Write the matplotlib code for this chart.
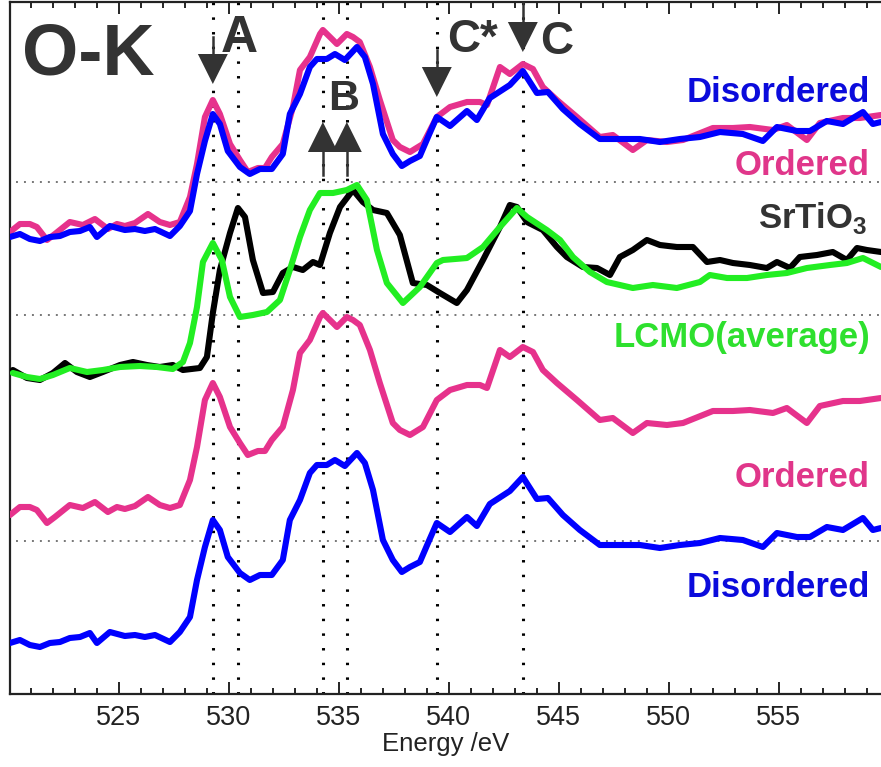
import matplotlib
matplotlib.use("Agg")
import matplotlib.pyplot as plt

plt.rcParams['font.family'] = ['Liberation Sans', 'DejaVu Sans']
plt.rcParams['mathtext.fontset'] = 'custom'
plt.rcParams['mathtext.rm'] = 'Liberation Sans'

# O-K edge spectra (energy in eV, intensity in arbitrary units)
e_ordered = [520.05, 520.5, 520.95, 521.27, 521.73, 522.09, 522.77, 523.36, 523.91, 524.5,
             524.91, 525.27, 525.73, 526.32, 526.86, 527.32, 527.77, 528.23, 528.55, 528.91,
             529.27, 529.59, 530.05, 530.5, 530.86, 531.32, 531.64, 531.95, 532.45, 532.91,
             533.23, 533.68, 534.14, 534.27, 534.73, 534.91, 535.36, 535.64, 535.95, 536.41,
             536.86, 537.45, 537.77, 538.23, 538.82, 539.45, 540.05, 540.82, 541.41, 541.73,
             542.32, 542.77, 543.36, 543.82, 544.27, 544.91, 545.82, 546.86, 547.45, 548.36,
             549.0, 549.91, 550.64, 552.0, 552.91, 553.68, 554.73, 555.36, 556.27, 556.86,
             557.91, 558.68, 559.64]
i_ordered = [1.79, 1.87, 1.87, 1.84, 1.71, 1.77, 1.89, 1.86, 1.92, 1.82,
             1.87, 1.85, 1.88, 1.97, 1.89, 1.86, 1.89, 2.14, 2.47, 2.94,
             3.11, 2.97, 2.67, 2.51, 2.39, 2.43, 2.43, 2.54, 2.67, 3.04,
             3.41, 3.54, 3.77, 3.81, 3.71, 3.67, 3.77, 3.74, 3.69, 3.44,
             3.11, 2.71, 2.64, 2.59, 2.67, 2.94, 3.04, 3.09, 3.09, 3.06,
             3.44, 3.37, 3.47, 3.42, 3.24, 3.11, 2.94, 2.74, 2.76, 2.61,
             2.71, 2.69, 2.71, 2.83, 2.83, 2.84, 2.81, 2.86, 2.71, 2.88,
             2.93, 2.93, 2.96]

e_disordered = [520.05, 520.5, 520.95, 521.41, 521.86, 522.32, 522.77, 523.23, 523.68, 524.0,
                524.59, 525.27, 525.73, 526.18, 526.64, 527.32, 527.77, 528.23, 528.55, 528.91,
                529.27, 529.59, 529.95, 530.5, 530.95, 531.41, 531.95, 532.45, 532.77, 533.23,
                533.68, 534.0, 534.45, 534.82, 535.27, 535.82, 536.18, 536.55, 537.0, 537.45,
                537.86, 538.23, 538.68, 539.05, 539.45, 540.05, 540.82, 541.27, 541.86, 542.77,
                543.36, 544.0, 544.5, 545.18, 545.95, 546.86, 547.77, 548.68, 549.59, 550.5,
                551.41, 552.32, 553.36, 554.27, 554.91, 555.82, 556.41, 557.18, 557.91, 558.82,
                559.27, 559.64]
i_disordered = [0.51, 0.54, 0.49, 0.47, 0.51, 0.52, 0.56, 0.57, 0.61, 0.51,
                0.62, 0.58, 0.59, 0.57, 0.59, 0.52, 0.62, 0.77, 1.14, 1.47,
                1.74, 1.64, 1.37, 1.21, 1.14, 1.19, 1.19, 1.34, 1.74, 1.94,
                2.21, 2.29, 2.29, 2.34, 2.28, 2.41, 2.31, 2.04, 1.54, 1.34,
                1.22, 1.27, 1.32, 1.51, 1.71, 1.62, 1.77, 1.68, 1.90, 2.03,
                2.17, 1.95, 1.96, 1.79, 1.64, 1.49, 1.49, 1.49, 1.46, 1.49,
                1.51, 1.56, 1.54, 1.47, 1.61, 1.57, 1.57, 1.67, 1.64, 1.76,
                1.64, 1.66]

e_srtio3 = [520.18, 520.82, 521.41, 522.0, 522.55, 523.09, 523.68, 524.27, 525.05, 525.64,
            526.27, 526.86, 527.45, 527.91, 528.68, 529.0, 529.27, 529.59, 530.05, 530.41,
            530.73, 531.09, 531.55, 532.0, 532.45, 532.91, 533.36, 533.82, 534.14, 534.59,
            535.05, 535.64, 536.09, 536.55, 537.18, 537.77, 538.36, 539.0, 539.59, 540.36,
            540.82, 541.55, 542.32, 542.77, 543.09, 543.55, 544.27, 544.91, 545.36, 546.09,
            546.73, 547.32, 547.77, 548.36, 549.0, 549.59, 550.36, 551.09, 551.73, 552.32,
            552.91, 553.68, 554.45, 554.91, 555.5, 555.95, 556.73, 557.45, 558.09, 558.55,
            559.0, 559.64]
i_srtio3 = [3.24, 3.16, 3.14, 3.21, 3.31, 3.22, 3.17, 3.22, 3.29, 3.32,
            3.29, 3.27, 3.29, 3.24, 3.26, 3.37, 3.81, 4.24, 4.61, 4.86,
            4.77, 4.34, 4.01, 4.02, 4.21, 4.27, 4.24, 4.32, 4.29, 4.61,
            4.87, 5.04, 4.92, 4.84, 4.81, 4.59, 4.11, 4.09, 4.01, 3.91,
            4.04, 4.34, 4.67, 4.89, 4.87, 4.72, 4.64, 4.47, 4.37, 4.27,
            4.26, 4.19, 4.37, 4.44, 4.54, 4.49, 4.47, 4.47, 4.32, 4.34,
            4.31, 4.29, 4.26, 4.32, 4.26, 4.37, 4.39, 4.42, 4.34, 4.46,
            4.44, 4.42]

e_lcmo = [520.18, 520.82, 521.41, 522.0, 522.77, 523.55, 524.27, 525.05, 525.95, 526.73,
          527.45, 527.91, 528.23, 528.55, 528.82, 529.27, 529.68, 530.05, 530.5, 531.09,
          531.73, 532.32, 532.77, 533.23, 533.68, 534.14, 534.73, 535.36, 535.82, 536.27,
          536.73, 537.18, 537.91, 538.68, 539.45, 539.73, 540.82, 541.55, 542.32, 543.09,
          543.55, 544.45, 545.05, 545.64, 546.41, 547.18, 548.36, 549.27, 550.36, 551.41,
          551.86, 552.64, 553.55, 554.45, 555.36, 556.27, 557.32, 558.09, 558.82, 559.64]
i_lcmo = [3.21, 3.17, 3.15, 3.19, 3.26, 3.22, 3.24, 3.27, 3.28, 3.27,
          3.25, 3.32, 3.51, 3.87, 4.32, 4.51, 4.34, 3.97, 3.77, 3.79,
          3.82, 3.94, 4.24, 4.57, 4.84, 5.01, 5.01, 5.04, 5.09, 4.94,
          4.44, 4.11, 3.91, 4.07, 4.31, 4.34, 4.36, 4.47, 4.67, 4.86,
          4.77, 4.64, 4.54, 4.37, 4.22, 4.12, 4.06, 4.09, 4.06, 4.12,
          4.19, 4.16, 4.16, 4.19, 4.21, 4.26, 4.29, 4.31, 4.36, 4.27]

# vertical offsets of the upper overlaid pair
offset_ordered_top = 2.83
offset_disordered_top = 4.06

# marked features (eV)
peak_A = [529.27, 530.41]
peak_B = [534.27, 535.36]
peak_Cstar = 539.45
peak_C = 543.36
baselines = [5.12, 3.79, 1.53]

pink = '#e6328c'
blue = '#0000ff'
green = '#22ee22'
gray = '#333333'

fig = plt.figure(figsize=(8.81, 7.67), dpi=100)
ax = fig.add_axes([10 / 881, 73 / 767, 1 - 10 / 881, 692 / 767])

# guide lines
for y in baselines:
    ax.plot([520.3, 559.64], [y, y], color='#777777', lw=1.4, ls=(0, (1, 3.1)), zorder=1)
for x in peak_A + peak_B + [peak_Cstar, peak_C]:
    ax.axvline(x, color='black', lw=2.2, ls=(0, (0.8, 4)), zorder=1)

# spectra
lw = 4.4
style = dict(lw=lw, solid_joinstyle='round', solid_capstyle='round')
ax.plot(e_ordered, [v + offset_ordered_top for v in i_ordered], color=pink, zorder=3, **style)
ax.plot(e_disordered, [v + offset_disordered_top for v in i_disordered], color=blue, zorder=4, **style)
ax.plot(e_srtio3, i_srtio3, color='black', zorder=3, **style)
ax.plot(e_lcmo, i_lcmo, color=green, zorder=4, **style)
ax.plot(e_ordered, i_ordered, color=pink, zorder=3, **style)
ax.plot(e_disordered, i_disordered, color=blue, zorder=3, **style)


# arrows: stem plus filled triangle
def arrow(x, y_tail, y_base, y_tip):
    ax.plot([x, x], [y_tail, y_base], color=gray, lw=1.8, zorder=5)
    ax.fill([x - 0.68, x + 0.68, x], [y_base, y_base, y_tip], color=gray, lw=0, zorder=5)


arrow(peak_A[0], 6.57, 6.40, 6.10)
arrow(peak_Cstar, 6.44, 6.27, 5.97)
arrow(peak_C, 6.92, 6.72, 6.42)
arrow(peak_B[0], 5.19, 5.42, 5.72)
arrow(peak_B[1], 5.19, 5.42, 5.72)

ax.text(520.59, 6.19, 'O-K', fontsize=52, fontweight='bold', color=gray, va='baseline')
ax.text(530.45, 6.42, 'A', fontsize=37, fontweight='bold', color=gray, ha='center', va='baseline')
ax.text(535.23, 5.84, 'B', fontsize=31, fontweight='bold', color=gray, ha='center', va='baseline')
ax.text(539.91, 6.42, 'C*', fontsize=33, fontweight='bold', color=gray, va='baseline')
ax.text(544.14, 6.40, 'C', fontsize=33, fontweight='bold', color=gray, va='baseline')

lab = dict(fontsize=25, fontweight='bold', ha='right', va='baseline')
ax.text(559.14, 5.92, 'Disordered', color='#0b0bdc', **lab)
ax.text(559.14, 5.19, 'Ordered', color='#e0368a', **lab)
ax.text(559.05, 4.66, r'SrTiO$_\mathregular{3}$', color=gray, **lab)
ax.text(559.14, 3.47, 'LCMO(average)', color='#2ee02e', **lab)
ax.text(559.14, 2.07, 'Ordered', color='#e0368a', **lab)
ax.text(559.14, 0.97, 'Disordered', color='#0b0bdc', **lab)

ax.set_xlim(520.05, 559.64)
ax.set_ylim(0, 6.92)
ax.set_yticks([])
ax.set_xticks([525, 530, 535, 540, 545, 550, 555])
ax.set_xticks(range(521, 560), minor=True)
ax.tick_params(axis='x', which='both', direction='in', top=True, width=1.2,
               labelsize=19.5, labelcolor='#222222', pad=8)
ax.tick_params(axis='x', which='major', length=8.6)
ax.tick_params(axis='x', which='minor', length=4.3)
ax.spines['right'].set_visible(False)
for s in ['left', 'bottom', 'top']:
    ax.spines[s].set_linewidth(1.6)
    ax.spines[s].set_color('#222222')
ax.set_xlabel('Energy /eV', fontsize=18.5, color='#222222', labelpad=1)

fig.savefig('out.png', dpi=100)
